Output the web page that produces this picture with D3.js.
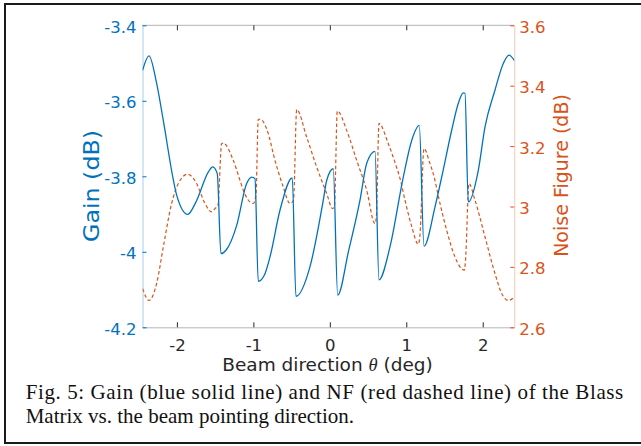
<!DOCTYPE html>
<html>
<head>
<meta charset="utf-8">
<script src="https://cdn.jsdelivr.net/npm/d3@7"></script>
<style>
  html, body { margin: 0; padding: 0; background: #fff; }
  svg { display: block; }
</style>
</head>
<body>
<svg id="chart" width="641" height="446"></svg>
<script>
// ---- data ----
const thetaGain = [-2.449,-2.365,-2.265,-2.178,-2.048,-2.003,-1.859,-1.742,-1.590,-1.532,-1.472,
  -1.424,-1.358,-1.218,-1.088,-1.022,-0.979,
  -0.936,-0.848,-0.783,-0.652,-0.491,
  -0.443,-0.260,-0.086,-0.041,0.045,
  0.103,0.247,0.394,0.482,0.591,
  0.643,0.787,0.961,1.071,1.170,
  1.232,1.376,1.474,1.594,1.680,1.746,1.768,
  1.811,1.942,2.030,2.160,2.269,2.344,2.413];
const gainValues = [-3.519,-3.481,-3.554,-3.652,-3.808,-3.850,-3.901,-3.864,-3.789,-3.775,-3.793,
  -4.005,-3.996,-3.930,-3.819,-3.802,-3.806,
  -4.078,-4.058,-4.014,-3.890,-3.804,
  -4.118,-4.040,-3.864,-3.811,-3.780,
  -4.115,-3.996,-3.864,-3.766,-3.734,
  -4.074,-3.987,-3.802,-3.705,-3.665,
  -3.985,-3.881,-3.792,-3.678,-3.607,-3.579,-3.580,
  -3.868,-3.784,-3.669,-3.572,-3.501,-3.479,-3.493];

const thetaNF = [-2.448,-2.365,-2.265,-2.178,-2.069,-1.982,-1.859,-1.742,-1.633,-1.545,-1.502,-1.463,
  -1.415,-1.394,-1.263,-1.175,-1.132,-1.001,-0.966,
  -0.936,-0.914,-0.792,-0.740,-0.609,-0.521,-0.475,
  -0.433,-0.303,-0.172,-0.041,0.037,0.061,
  0.098,0.221,0.351,0.482,0.591,0.610,
  0.643,0.765,0.852,0.918,0.983,1.071,1.157,1.179,
  1.232,1.310,1.353,1.441,1.529,1.637,1.759,1.775,
  1.820,1.899,2.030,2.160,2.248,2.334,2.413];
const nfValues = [2.728,2.689,2.745,2.866,3.010,3.076,3.107,3.076,3.010,2.982,2.993,3.004,
  3.208,3.210,3.153,3.087,3.054,3.010,3.037,
  3.288,3.289,3.230,3.175,3.065,3.010,3.021,
  3.321,3.230,3.131,3.043,2.993,3.004,
  3.316,3.252,3.153,3.054,2.943,2.971,
  3.275,3.208,3.146,3.093,3.021,2.934,2.875,2.905,
  3.192,3.142,3.109,3.010,2.921,2.833,2.789,2.822,
  3.076,3.021,2.899,2.778,2.712,2.689,2.700];

const xTickValues = [-2, -1, 0, 1, 2];
const xTickLabels = ["-2", "-1", "0", "1", "2"];
const leftTickValues = [-3.4, -3.6, -3.8, -4.0, -4.2];
const leftTickLabels = ["-3.4", "-3.6", "-3.8", "-4", "-4.2"];
const rightTickValues = [2.6, 2.8, 3.0, 3.2, 3.4, 3.6];
const rightTickLabels = ["2.6", "2.8", "3", "3.2", "3.4", "3.6"];

const xLabelText = ["Beam direction ", "\u03B8", " (deg)"];
const leftLabelText = "Gain (dB)";
const rightLabelText = "Noise Figure (dB)";
const captionLines = [
  "Fig. 5: Gain (blue solid line) and NF (red dashed line) of the Blass",
  "Matrix vs. the beam pointing direction."
];

// ---- layout ----
const BLUE = "#0072BD", RED = "#D95319", DARK = "#262626";
const plot = { left: 142.5, right: 514.3, top: 25.3, bottom: 327.3 };
const SANS = "'DejaVu Sans', Verdana, sans-serif";

const svg = d3.select("#chart");

const x = d3.scaleLinear().domain([-2.45, 2.413]).range([plot.left, plot.right]);
const yL = d3.scaleLinear().domain([-4.2, -3.4]).range([plot.bottom, plot.top]);
const yR = d3.scaleLinear().domain([2.6, 3.6]).range([plot.bottom, plot.top]);

// frame around the figure
svg.append("path")
  .attr("d", "M641,4 L5,4 L5,443 L641,443")
  .attr("fill", "none").attr("stroke", "#1a1a1a").attr("stroke-width", 2);

// box lines (top / bottom gray)
svg.append("line").attr("x1", plot.left).attr("x2", plot.right)
  .attr("y1", plot.top).attr("y2", plot.top).attr("stroke", "#b5b5b5").attr("stroke-width", 1);

// bottom axis
const gx = svg.append("g").attr("transform", `translate(0,${plot.bottom})`)
  .call(d3.axisBottom(x).tickValues(xTickValues)
    .tickFormat((d, i) => xTickLabels[i]).tickSizeInner(-5).tickSizeOuter(0).tickPadding(12.3));
gx.select(".domain").attr("stroke", "#b5b5b5");
gx.selectAll(".tick line").attr("stroke", DARK);
gx.selectAll("text").attr("fill", DARK).style("font-family", SANS).style("font-size", "16.5px");

// top ticks
svg.append("g").attr("transform", `translate(0,${plot.top})`)
  .call(d3.axisTop(x).tickValues(xTickValues).tickFormat("").tickSizeInner(-5).tickSizeOuter(0))
  .call(g => g.select(".domain").remove())
  .call(g => g.selectAll(".tick line").attr("stroke", DARK));

// left axis
const gl = svg.append("g").attr("transform", `translate(${plot.left},0)`)
  .call(d3.axisLeft(yL).tickValues(leftTickValues)
    .tickFormat((d, i) => leftTickLabels[i]).tickSizeInner(-4).tickSizeOuter(0).tickPadding(6));
gl.select(".domain").attr("stroke", "#a6cfee");
gl.selectAll(".tick line").attr("stroke", BLUE);
gl.selectAll("text").attr("fill", BLUE).attr("dy", "0.42em")
  .style("font-family", SANS).style("font-size", "16.5px");

// right axis
const gr = svg.append("g").attr("transform", `translate(${plot.right},0)`)
  .call(d3.axisRight(yR).tickValues(rightTickValues)
    .tickFormat((d, i) => rightTickLabels[i]).tickSizeInner(-4).tickSizeOuter(0).tickPadding(5));
gr.select(".domain").attr("stroke", "#f4c7b2");
gr.selectAll(".tick line").attr("stroke", RED);
gr.selectAll("text").attr("fill", RED).attr("dy", "0.42em")
  .style("font-family", SANS).style("font-size", "16.5px");

// clip
svg.append("clipPath").attr("id", "clip").append("rect")
  .attr("x", plot.left).attr("y", plot.top)
  .attr("width", plot.right - plot.left).attr("height", plot.bottom - plot.top);

// NF line (red dashed)
const nfData = thetaNF.map((t, i) => [t, nfValues[i]]);
svg.append("path").datum(nfData)
  .attr("clip-path", "url(#clip)")
  .attr("fill", "none").attr("stroke", RED).attr("stroke-width", 1.2)
  .attr("stroke-dasharray", "3.5,2.5")
  .attr("d", d3.line().x(d => x(d[0])).y(d => yR(d[1])).curve(d3.curveMonotoneX));

// Gain line (blue solid)
const gainData = thetaGain.map((t, i) => [t, gainValues[i]]);
svg.append("path").datum(gainData)
  .attr("clip-path", "url(#clip)")
  .attr("fill", "none").attr("stroke", BLUE).attr("stroke-width", 1.3)
  .attr("d", d3.line().x(d => x(d[0])).y(d => yL(d[1])).curve(d3.curveMonotoneX));

// x label
const xl = svg.append("text").attr("x", 327.5).attr("y", 371.3)
  .attr("text-anchor", "middle").attr("fill", DARK)
  .style("font-family", SANS).style("font-size", "18.5px");
xl.append("tspan").text(xLabelText[0]);
xl.append("tspan").text(xLabelText[1]).style("font-family", "'Liberation Serif', serif").style("font-style", "italic");
xl.append("tspan").text(xLabelText[2]);

// y labels
svg.append("text").attr("transform", "translate(98.5,186) rotate(-90)")
  .attr("text-anchor", "middle").attr("fill", BLUE)
  .attr("textLength", 112).attr("lengthAdjust", "spacingAndGlyphs")
  .style("font-family", SANS).style("font-size", "21px").text(leftLabelText);
svg.append("text").attr("transform", "translate(568,175.5) rotate(-90)")
  .attr("text-anchor", "middle").attr("fill", RED)
  .style("font-family", SANS).style("font-size", "19px").text(rightLabelText);

// caption
svg.append("text").attr("x", 25.7).attr("y", 399)
  .attr("textLength", 597.6).attr("lengthAdjust", "spacing")
  .attr("fill", "#111").style("font-family", "'Liberation Serif', 'Times New Roman', serif")
  .style("font-size", "21px").text(captionLines[0]);
svg.append("text").attr("x", 25.7).attr("y", 423)
  .attr("fill", "#111").style("font-family", "'Liberation Serif', 'Times New Roman', serif")
  .style("font-size", "21px").text(captionLines[1]);
</script>
</body>
</html>
